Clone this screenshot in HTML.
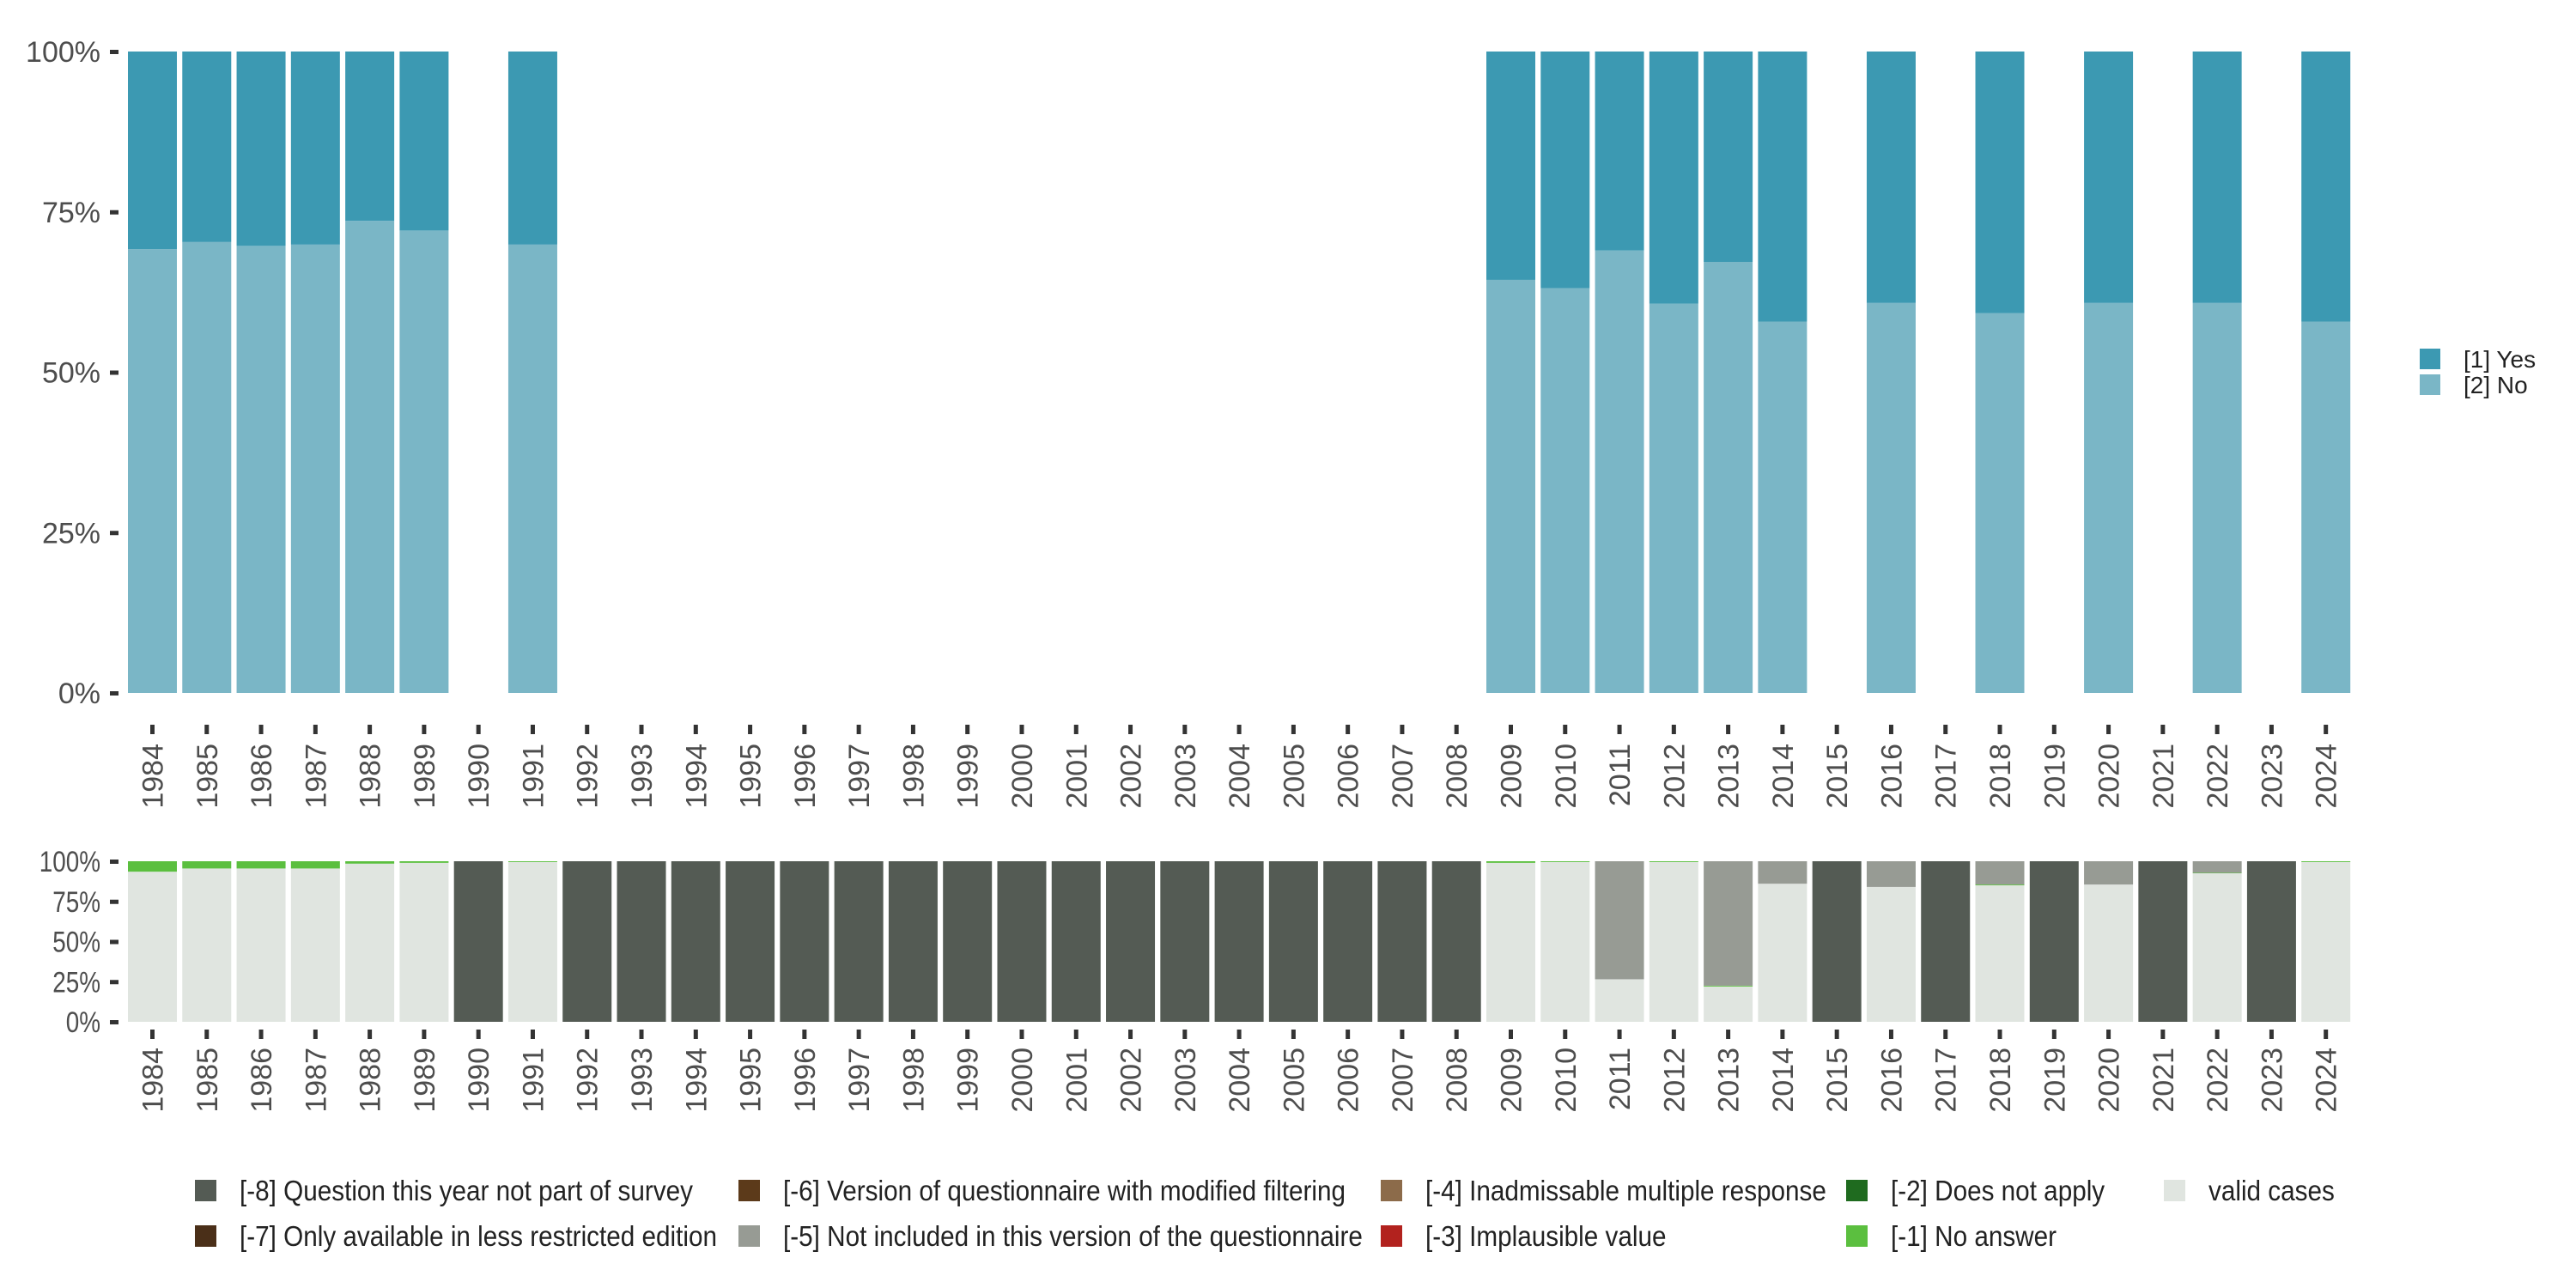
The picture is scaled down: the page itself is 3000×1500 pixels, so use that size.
<!DOCTYPE html>
<html><head><meta charset="utf-8"><style>
html,body{margin:0;padding:0;background:#fff;}
svg{display:block;font-family:"Liberation Sans","DejaVu Sans",sans-serif;}
</style></head><body>
<svg id="c" width="3000" height="1500" viewBox="0 0 3000 1500"></svg>
<script>
const years=[];for(let y=1984;y<=2024;y++)years.push(y);
const topYears=[1984,1985,1986,1987,1988,1989,1991,2009,2010,2011,2012,2013,2014,2016,2018,2020,2022,2024];
const noShare=[69.2,70.3,69.7,69.9,73.6,72.1,69.9,64.4,63.1,69.0,60.7,67.2,57.9,60.8,59.2,60.8,60.8,57.9];
const botYears=[1984,1985,1986,1987,1988,1989,1991,2009,2010,2011,2012,2013,2014,2016,2018,2020,2022,2024];
const validShare=[93.5,95.5,95.5,95.5,98.5,99,99.5,99,99.5,26.5,99.5,22,86,84,85,85.5,92.5,99.5];
const noAnswerShare=[6.5,4.5,4.5,4.5,1.5,1,0.5,1,0.5,0,0.5,0.5,0,0,0.5,0,0.3,0.5];
const notIncludedShare=[0,0,0,0,0,0,0,0,0,73.5,0,77.5,14,16,14.5,14.5,7.2,0];
const yTicks=[0,25,50,75,100];
const tickLabels=["0%","25%","50%","75%","100%"];
const svg=document.getElementById('c');const NS='http://www.w3.org/2000/svg';
function el(t,a,p){const e=document.createElementNS(NS,t);for(const k in a)e.setAttribute(k,a[k]);(p||svg).appendChild(e);return e;}
const x0=177.5,pitch=63.28,bw=57;
const xc=y=>x0+(y-1984)*pitch;
const yTop=v=>807-(v/100)*747;
const yBot=v=>1190-(v/100)*187;
const C={yes:'#3c99b2',no:'#7ab6c6',valid:'#e0e5e0',na:'#5bbf3f',ni:'#979b94',q8:'#545b54'};
topYears.forEach((yr,i)=>{
 let r=el('rect',{x:xc(yr)-bw/2,y:yTop(noShare[i]),width:bw,height:yTop(0)-yTop(noShare[i]),fill:C.no});
 
 r=el('rect',{x:xc(yr)-bw/2,y:yTop(100),width:bw,height:yTop(noShare[i])-yTop(100),fill:C.yes});
 
});
years.forEach(yr=>{
 const i=botYears.indexOf(yr);
 let segs=i<0?[[100,C.q8,'q8']]:[[validShare[i],C.valid,'valid'],[noAnswerShare[i],C.na,'no-answer'],[notIncludedShare[i],C.ni,'not-included']];
 let acc=0;
 segs.forEach(s=>{if(s[0]<=0)return;
  const r=el('rect',{x:xc(yr)-bw/2,y:yBot(acc+s[0]),width:bw,height:yBot(acc)-yBot(acc+s[0]),fill:s[1]});
  
  acc+=s[0];});
});
yTicks.forEach((v,i)=>{
 el('rect',{x:128,y:yTop(v)-2,width:10,height:5,fill:'#333'});
 let t=el('text',{x:117,y:yTop(v)+12,'text-anchor':'end','font-size':34,fill:'#4d4d4d'});t.textContent=tickLabels[i];
 
 el('rect',{x:128,y:yBot(v)-2,width:10,height:5,fill:'#333'});
 t=el('text',{x:0,y:0,'text-anchor':'end','font-size':34,fill:'#4d4d4d',transform:`translate(117 ${yBot(v)+12}) scale(0.82 1)`});
 t.textContent=tickLabels[i];
 
});
years.forEach(yr=>{
 const x=xc(yr);
 el('rect',{x:x-2.5,y:844,width:5,height:11,fill:'#333'});
 let t=el('text',{x:0,y:0,'text-anchor':'end','font-size':34,fill:'#4d4d4d',transform:`translate(${x+12} 866) rotate(-90)`});t.textContent=yr;
 
 el('rect',{x:x-2.5,y:1199,width:5,height:11,fill:'#333'});
 t=el('text',{x:0,y:0,'text-anchor':'end','font-size':34,fill:'#4d4d4d',transform:`translate(${x+12} 1220) rotate(-90)`});t.textContent=yr;
 
});
[['[1] Yes',C.yes,406],['[2] No',C.no,436]].forEach(l=>{
 el('rect',{x:2818,y:l[2],width:24,height:24,fill:l[1]});
 const t=el('text',{x:2869,y:l[2]+22,'font-size':28,fill:'#222'});t.textContent=l[0];
 
});
const leg=[['[-8] Question this year not part of survey','#545b54',227,1374],['[-7] Only available in less restricted edition','#4a2f18',227,1427],
['[-6] Version of questionnaire with modified filtering','#5c3a1a',860,1374],['[-5] Not included in this version of the questionnaire','#979b94',860,1427],
['[-4] Inadmissable multiple response','#8c6b4a',1608,1374],['[-3] Implausible value','#b2221e',1608,1427],
['[-2] Does not apply','#1f6b1f',2150,1374],['[-1] No answer','#5bbf3f',2150,1427],['valid cases','#e0e5e0',2520,1374]];
leg.forEach(l=>{
 el('rect',{x:l[2],y:l[3],width:25,height:25,fill:l[1]});
 const t=el('text',{x:0,y:0,'font-size':33,fill:'#222',transform:`translate(${l[2]+52} ${l[3]+24}) scale(0.9 1)`});t.textContent=l[0];
 
});
</script>
</body></html>
